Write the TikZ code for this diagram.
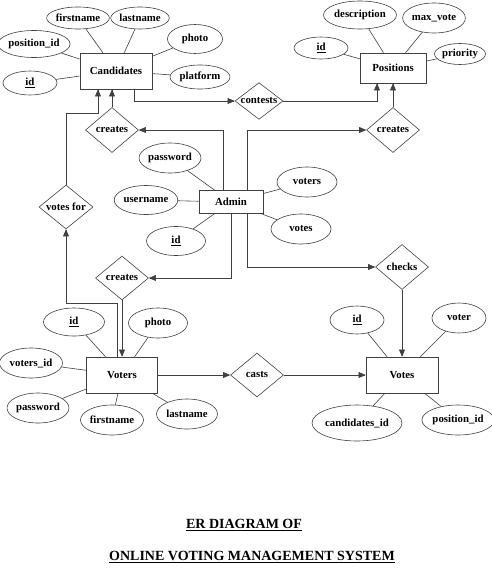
\documentclass[tikz,border=0pt]{standalone}
\usepackage{fontspec}
\setmainfont{Liberation Serif}
\usepackage{tikz}
\usetikzlibrary{arrows, arrows.meta, shapes.geometric}

\tikzset{
  entity/.style={draw=black!75, line width=0.6pt, rectangle, inner sep=0pt},
  attr/.style={draw=black!75, line width=0.6pt, ellipse, inner sep=0pt, minimum width=58pt, minimum height=29pt},
  rel/.style={draw=black!75, line width=0.6pt, diamond, aspect=1.2, inner sep=0pt, minimum width=53pt, minimum height=44pt},
  link/.style={black!75, line width=0.6pt}
}

\begin{document}
\begin{tikzpicture}[x=1pt, y=-1pt, >=triangle 45, font=\bfseries\fontsize{10.8}{12}\selectfont]
    \useasboundingbox (0,0) rectangle (492,573);

    % entities
    \node[entity, minimum width=72pt, minimum height=36pt] (cand) at (116,71) {Candidates};
    \node[entity, minimum width=66pt, minimum height=30pt] (pos) at (393,68) {Positions};
    \node[entity, minimum width=64pt, minimum height=23pt] (admin) at (231,202) {Admin};
    \node[entity, minimum width=71pt, minimum height=36pt] (voters) at (122,375) {Voters};
    \node[entity, minimum width=72pt, minimum height=36pt] (votes) at (402,375) {Votes};

    % relations
    \node[rel, minimum height=45pt] (crc) at (112,130) {creates};
    \node[rel, minimum height=45pt] (crp) at (393,130) {creates};
    \node[rel, minimum width=48pt, minimum height=36pt] (cont) at (259,101) {contests};
    \node[rel, minimum width=54pt] (vfor) at (66,207) {votes for};
    \node[rel] (crv) at (122,278) {creates};
    \node[rel, minimum height=45pt] (chk) at (402,267) {checks};
    \node[rel] (casts) at (257,375) {casts};

    % candidates attributes
    \node[attr, minimum width=54pt, minimum height=22pt] (cfirst) at (78,18) {firstname};
    \node[attr, minimum width=47pt, minimum height=22pt] (clast) at (140,18) {lastname};
    \node[attr, minimum width=60pt, minimum height=27pt] (cposid) at (34,44) {position\_id};
    \node[attr, minimum width=55pt] (cphoto) at (195,39) {photo};
    \node[attr, minimum width=60pt, minimum height=24pt] (cplat) at (200,77) {platform};
    \node[attr, minimum width=54pt, minimum height=24pt] (cid) at (30,83) {\underline{id}};
    \foreach \a in {cfirst, clast, cposid, cphoto, cplat, cid}
        \draw[link] (cand) -- (\a);

    % positions attributes
    \node[attr, minimum width=59pt, minimum height=28pt] (pdesc) at (360,15) {description};
    \node[attr, minimum width=52pt, minimum height=30pt] (pmax) at (434,18) {max\_vote};
    \node[attr, minimum width=46pt, minimum height=21pt] (pprio) at (460,54) {priority};
    \node[attr, minimum width=54pt, minimum height=22pt] (pid) at (321,48) {\underline{id}};
    \foreach \a in {pdesc, pmax, pprio, pid}
        \draw[link] (pos) -- (\a);

    % admin attributes
    \node[attr, minimum width=60pt, minimum height=30pt] (apass) at (170,158) {password};
    \node[attr, minimum width=54pt, minimum height=29pt] (auser) at (146,200) {username};
    \node[attr, minimum width=59pt, minimum height=29pt] (aid) at (176,241) {\underline{id}};
    \node[attr, minimum width=60pt, minimum height=30pt] (avoters) at (307,182) {voters};
    \node[attr, minimum width=60pt, minimum height=30pt] (avotes) at (301,229) {votes};
    \foreach \a in {apass, auser, aid, avoters, avotes}
        \draw[link] (admin) -- (\a);

    % voters attributes
    \node[attr, minimum width=61pt, minimum height=28pt] (vid) at (74,322) {\underline{id}};
    \node[attr, minimum width=59pt, minimum height=30pt] (vphoto) at (158,323) {photo};
    \node[attr, minimum width=63pt, minimum height=30pt] (vvid) at (31,363) {voters\_id};
    \node[attr, minimum width=60pt, minimum height=30pt] (vpass) at (38,408) {password};
    \node[attr, minimum width=63pt, minimum height=30pt] (vfirst) at (112,420) {firstname};
    \node[attr, minimum width=61pt, minimum height=30pt] (vlast) at (187,414) {lastname};
    \foreach \a in {vid, vphoto, vvid, vpass, vfirst, vlast}
        \draw[link] (voters) -- (\a);

    % votes attributes
    \node[attr, minimum width=54pt, minimum height=28pt] (tid) at (357,320) {\underline{id}};
    \node[attr, minimum width=54pt, minimum height=30pt] (tvoter) at (459,318) {voter};
    \node[attr, minimum width=67pt, minimum height=36pt] (tcand) at (357,423) {candidates\_id};
    \node[attr, minimum width=59pt, minimum height=30pt] (tpos) at (458,420) {position\_id};
    \foreach \a in {tid, tvoter, tcand, tpos}
        \draw[link] (votes) -- (\a);

    % bend points
    \coordinate (xa1) at (223,0);
    \coordinate (xa2) at (247,0);
    \coordinate (xc) at (134,0);
    \coordinate (xp) at (377,0);
    \coordinate (vc) at (98,113);
    \coordinate (vv) at (117,303);

    % connectors
    \draw[link, ->] (crc.north) -- (crc.north |- cand.south);
    \draw[link, ->] (admin.north -| xa1) |- (crc.east);
    \draw[link, ->] (cand.south -| xc) |- (cont.west);
    \draw[link, ->] (cont.east) -| (xp |- pos.south);
    \draw[link, ->] (crp.north) -- (crp.north |- pos.south);
    \draw[link, ->] (admin.north -| xa2) |- (crp.west);
    \draw[link, ->] (vfor.north) |- (vc) -- (vc |- cand.south);
    \draw[link, ->] (voters.north -| vv) -- (vv) -| (vfor.south);
    \draw[link, ->] (admin.south) |- (crv.east);
    \draw[link, ->] (crv.south) -- (crv.south |- voters.north);
    \draw[link, ->] (admin.south -| xa2) |- (chk.west);
    \draw[link, ->] (chk.south) -- (chk.south |- votes.north);
    \draw[link, ->] (voters.east) -- (casts.west);
    \draw[link, ->] (casts.east) -- (votes.west);

    % title
    \node[font=\bfseries\fontsize{14}{16}\selectfont] (title1) at (244,525) {\underline{ER DIAGRAM OF}};
    \node[font=\bfseries\fontsize{14}{16}\selectfont] (title2) at (252,557) {\underline{ONLINE VOTING MANAGEMENT SYSTEM}};
\end{tikzpicture}
\end{document}
